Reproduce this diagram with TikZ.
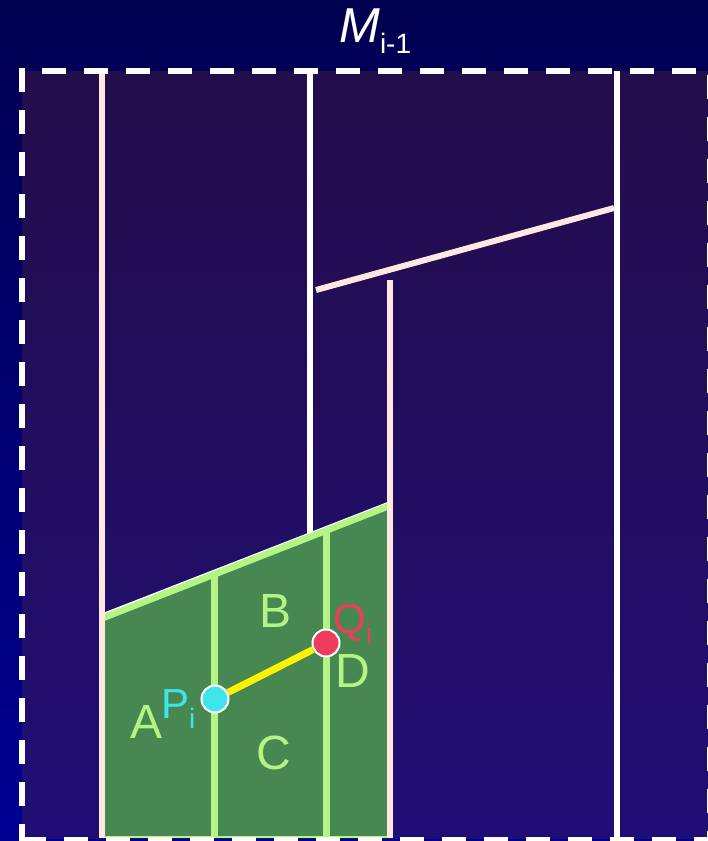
\documentclass[tikz,border=0pt]{standalone}
\usepackage{fontspec}
\setmainfont{Liberation Sans}
\definecolor{bgtop}{RGB}{0,0,80}
\definecolor{bgbot}{RGB}{0,0,146}
\definecolor{intop}{RGB}{35,13,74}
\definecolor{inbot}{RGB}{32,14,118}
\definecolor{pinkline}{RGB}{255,232,224}
\definecolor{greenfill}{RGB}{70,135,82}
\definecolor{lgreen}{RGB}{180,244,130}
\definecolor{ptcyan}{RGB}{64,228,236}
\definecolor{ptred}{RGB}{240,60,92}
\tikzset{
  border/.style={white, line width=6pt, dash pattern=on 24pt off 18pt},
  pinkrule/.style={pinkline, line width=5.5pt},
  whiterule/.style={white, line width=5.5pt},
  divider/.style={lgreen, line width=7pt},
  region/.style={text=lgreen, font=\fontsize{48}{48}\selectfont, inner sep=0pt, anchor=base},
  pt/.style={circle, draw=white, line width=2pt, minimum size=27pt, inner sep=0pt},
}
\begin{document}
\begin{tikzpicture}[x=1pt,y=1pt]
\useasboundingbox (0,0) rectangle (708,-841);
% background
\shade[top color=bgtop, bottom color=bgbot] (0,0) rectangle (708,-841);
% inner panel
\shade[top color=intop, bottom color=inbot] (22,-71) rectangle (712,-838);
% coordinates
\coordinate (l1t) at (102,-71);
\coordinate (l1b) at (102,-838);
\coordinate (l2t) at (310,-71);
\coordinate (l2b) at (310,-534);
\coordinate (l3t) at (617,-71);
\coordinate (l3b) at (617,-838);
\coordinate (s1) at (316,-290);
\coordinate (s2) at (614,-208);
\coordinate (l4t) at (390,-280);
\coordinate (l4b) at (390,-838);
\coordinate (g1) at (103,-618);
\coordinate (g2) at (389,-506);
\coordinate (g3) at (389,-837);
\coordinate (g4) at (103,-837);
\coordinate (d1t) at (214,-575);
\coordinate (d1b) at (214,-837);
\coordinate (d2t) at (326,-531);
\coordinate (d2b) at (326,-837);
\coordinate (w1) at (103,-614);
\coordinate (w2) at (389,-502.5);
% rules
\draw[whiterule] (l2t) -- (l2b);
\draw[whiterule] (l3t) -- (l3b);
\draw[pinkrule, line width=6pt] (s1) -- (s2);
% green region
\fill[greenfill] (g1) -- (g2) -- (g3) -- (g4) -- cycle;
\draw[lgreen, line width=1.5pt] (g1) -- (g4) -- (g3);
\draw[divider] (d1t) -- (d1b);
\draw[divider] (d2t) -- (d2b);
\draw[white, line width=2pt] (w1) -- (w2);
\draw[lgreen, line width=6.5pt] (g1) -- (g2);
\draw[pinkrule] (l1t) -- (l1b);
\draw[pinkrule] (l4t) -- (l4b);
% points
\node[pt, fill=ptcyan] (P) at (215,-699) {};
\node[pt, fill=ptred] (Q) at (326,-643) {};
\draw[yellow, line width=7pt] (P) -- (Q);
% labels
\node[region] (A) at (147,-738) {A};
\node[region] (B) at (276,-627) {B};
\node[region] (C) at (274,-769) {C};
\node[region] (D) at (353,-687) {D};
\node[anchor=base west, inner sep=0pt, text=ptcyan] (Pl) at (161,-718) {\fontsize{42}{42}\selectfont P\raisebox{-10pt}{\fontsize{28}{28}\selectfont i}};
\node[anchor=base west, inner sep=0pt, text=ptred] (Ql) at (333,-633) {\fontsize{42}{42}\selectfont Q\raisebox{-10pt}{\fontsize{28}{28}\selectfont i}};
% title
\node[anchor=base west, inner sep=0pt, text=white] (title) at (339,-42) {\fontsize{49}{49}\selectfont\itshape M\upshape\raisebox{-11pt}{\fontsize{28}{28}\selectfont i-1}};
% dashed border
\coordinate (bl1) at (22,-68);
\coordinate (bl2) at (22,-841);
\coordinate (bt1) at (42,-71);
\coordinate (bt2) at (708,-71);
\coordinate (bb1) at (22,-840);
\coordinate (bb2) at (708,-840);
\coordinate (br1) at (710,-75);
\coordinate (br2) at (710,-841);
\draw[border] (bl1) -- (bl2);
\draw[border] (bt1) -- (bt2);
\draw[border] (bb1) -- (bb2);
\draw[border] (br1) -- (br2);
\end{tikzpicture}
\end{document}
